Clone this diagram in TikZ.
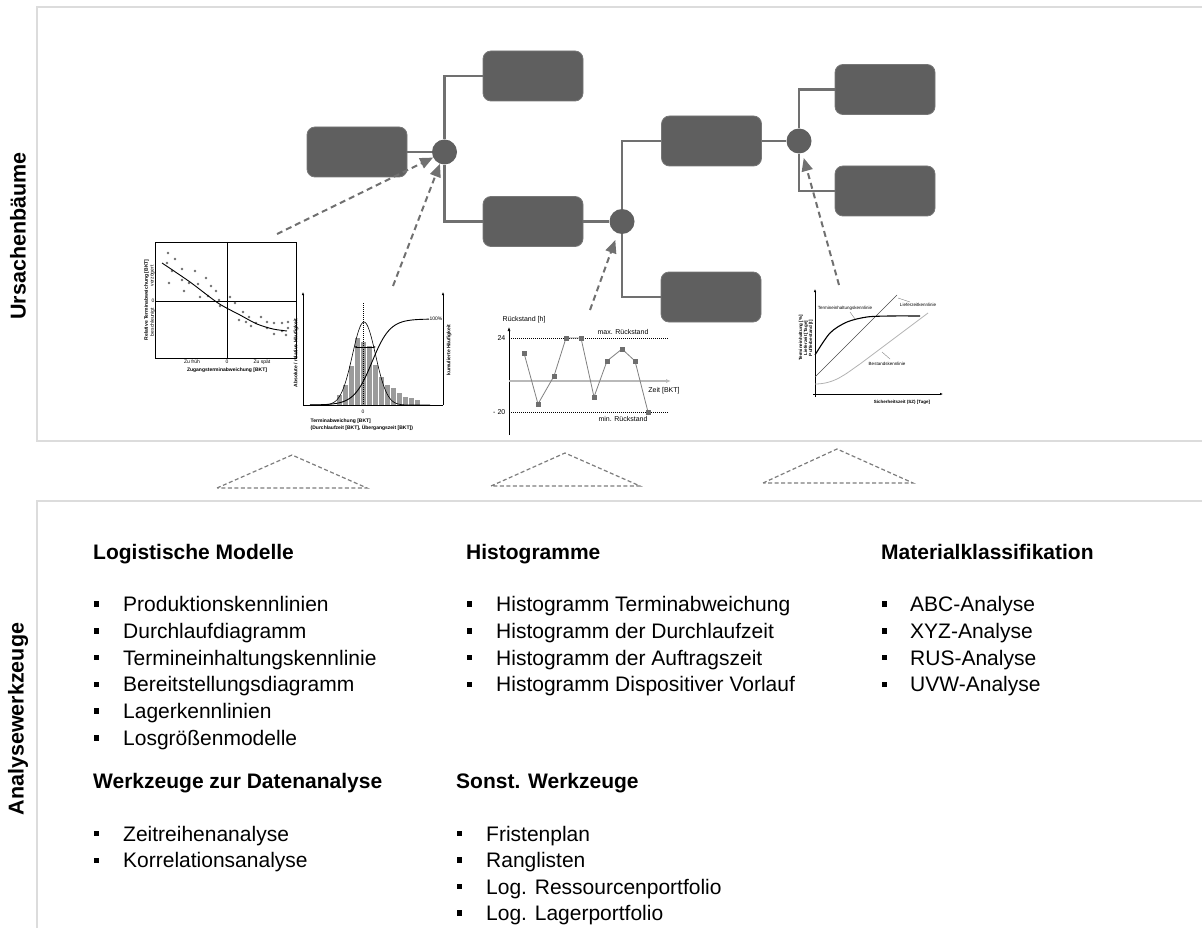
\documentclass[tikz,border=0pt]{standalone}
\usepackage{fontspec}
\setmainfont{Liberation Sans}
\usepackage{xcolor}
\usepackage{tikz}
\usetikzlibrary{arrows.meta,positioning,calc}

\definecolor{boxgray}{RGB}{95,95,95}
\definecolor{linegray}{RGB}{112,112,112}
\definecolor{panelgray}{RGB}{220,220,220}
\definecolor{bargray}{RGB}{155,155,155}
\definecolor{dotgray}{RGB}{110,110,110}
\definecolor{trigray}{RGB}{125,125,125}

\tikzset{
    causebox/.style={draw=boxgray!85!white, fill=boxgray, rounded corners=8pt, line width=0.8pt,
        minimum width=100pt, minimum height=50pt, inner sep=0pt},
    andnode/.style={circle, fill=boxgray, minimum size=25pt, inner sep=0pt},
    treeline/.style={draw=linegray, line width=2.2pt},
    dasharrow/.style={draw=linegray, line width=2pt, dash pattern=on 6pt off 4pt,
        -{Triangle[length=13pt,width=11pt]}},
    roof/.style={draw=trigray, line width=1.2pt, dash pattern=on 4pt off 2.5pt},
    panelline/.style={draw=panelgray, line width=1.8pt},
    sidelabel/.style={rotate=90, inner sep=0pt, font=\fontsize{21.5}{24}\selectfont\bfseries},
    headtxt/.style={anchor=base west, inner sep=0pt, font=\fontsize{21}{24}\selectfont\bfseries},
    itemtxt/.style={anchor=base west, inner sep=0pt, font=\fontsize{21}{24}\selectfont},
    bulletsq/.style={fill=black, minimum size=5.5pt, inner sep=0pt},
    axisline/.style={line width=0.6pt},
    tinytxt/.style={inner sep=0.5pt, font=\fontsize{5}{5.5}\selectfont},
    tinybold/.style={inner sep=0.5pt, font=\fontsize{5}{5.5}\selectfont\bfseries},
    smalltxt/.style={inner sep=0.5pt, font=\fontsize{7}{8}\selectfont},
}

\begin{document}
\begin{tikzpicture}[x=1pt, y=-1pt]
    \useasboundingbox (0,0) rectangle (1202,928);

    % Rahmen
    \draw[panelline] (1202,7) -- (37,7) -- (37,441) -- (1202,441);
    \draw[panelline] (1202,501) -- (37,501) -- (37,928);
    \node[sidelabel] (lab1) at (18,236) {Ursachenbäume};
    \node[sidelabel] (lab2) at (18,719) {Analysewerkzeuge};

    % Ursachenbaum
    \node[causebox] (ta) at (357,152) {};
    \node[andnode] (u1) at (444.5,152) {};
    \node[causebox] (tb) at (533,76) {};
    \node[causebox] (tc) at (533,221.5) {};
    \node[andnode] (u2) at (622,221.5) {};
    \node[causebox] (td) at (711.5,141) {};
    \node[causebox] (te) at (711,297) {};
    \node[andnode] (u3) at (799,141) {};
    \node[causebox] (tf) at (885,89.5) {};
    \node[causebox] (tg) at (885,191) {};

    \draw[treeline] (ta.east) -- (u1.west);
    \draw[treeline] (u1.north) |- (tb.west);
    \draw[treeline] (u1.south) |- (tc.west);
    \draw[treeline] (tc.east) -- (u2.west);
    \draw[treeline] (u2.north) |- (td.west);
    \draw[treeline] (u2.south) |- (te.west);
    \draw[treeline] (td.east) -- (u3.west);
    \draw[treeline] (u3.north) |- (tf.west);
    \draw[treeline] (u3.south) |- (tg.west);

    % Zuordnung der Diagramme
    \coordinate (q1) at (277,234);
    \coordinate (q2) at (393,286);
    \coordinate (q3) at (590,310);
    \coordinate (q4) at (839,285);
    \draw[dasharrow] (q1) -- (u1);
    \draw[dasharrow] (q2) -- (u1);
    \draw[dasharrow, shorten >=7pt] (q3) -- (u2);
    \draw[dasharrow, shorten >=5pt] (q4) -- (u3);

    % Diagramm 1: Zugangsterminabweichung
    \draw[axisline] (155,242) rectangle (296,358);
    \draw[axisline] (227,242) -- (227,358);
    \draw[axisline] (155,301) -- (296,301);
    \foreach \px/\py in {168/253, 175/259, 167/263, 172/271, 182/269, 169/283, 195/271, 182/280,
        189/283, 206/278, 184/291, 198/284, 211/286, 216/291, 200/297, 208/296, 219/300, 220/306,
        230/297, 235/303, 243/312, 239/320, 249/317, 246/322, 261/317, 256/323, 251/326, 267/322,
        274/323, 282/323, 288/322, 267/328, 274/334, 282/331, 286/335, 288/328}
        \fill[dotgray] (\px,\py) circle (1.3);
    \draw[line width=0.9pt] plot[smooth] coordinates {(162,263) (190,282) (218,303) (240,315) (257,324) (273,329) (287,331)};
    \node[tinytxt, anchor=east] (d1null) at (155,301) {0};
    \node[tinytxt, rotate=90] (d1spaet) at (152.5,276) {verzögert};
    \node[tinytxt, rotate=90] (d1frueh) at (152.5,322) {beschleunigt};
    \node[tinybold, rotate=90] (d1y) at (146.5,300) {Relative Terminabweichung [BKT]};
    \node[tinytxt] (d1a) at (192,362) {Zu früh};
    \node[tinytxt] (d1b) at (227,362) {0};
    \node[tinytxt] (d1c) at (262,362) {Zu spät};
    \node[tinybold] (d1x) at (227,370) {Zugangsterminabweichung [BKT]};

    % Diagramm 2: Histogramm
    \foreach \bx/\by in {337/395, 343/385, 349/366, 355/338, 361/342, 367/346, 373/365, 379/377,
        385/385, 391/388, 397/393, 403/397, 409/398, 415/400}
        \fill[bargray] (\bx,405) rectangle (\bx+5,\by);
    \draw[axisline, -{Latex[length=3pt,width=2.5pt]}] (303,405) -- (303,292);
    \draw[axisline] (303,405) -- (443,405);
    \draw[axisline, -{Latex[length=3pt,width=2.5pt]}] (443,405) -- (443,292);
    \draw[line width=1pt, dash pattern=on 1pt off 1pt] (363,303) -- (363,405);
    \draw[line width=0.6pt] plot[domain=310:430, samples=90, smooth] (\x, {405-83*exp(-0.5*((\x-364)/11.5)^2)});
    \draw[line width=0.9pt] plot[domain=310:429, samples=90, smooth] (\x, {405-86/(1+exp(-(\x-372)/9))});
    \draw[line width=0.5pt, {Latex[length=2.5pt,width=2pt]}-{Latex[length=2.5pt,width=2pt]}] (354,347) -- (376,347);
    \node[tinytxt] (d2p) at (436,319) {100\%};
    \node[tinytxt] (d2n) at (363,412) {0};
    \node[tinybold, rotate=90] (d2y) at (296,353) {Absolute / relative Häufigkeit};
    \node[tinybold, rotate=90] (d2k) at (449,350) {kumulierte Häufigkeit};
    \node[tinybold, anchor=west] (d2x) at (310,421) {Terminabweichung [BKT]};
    \node[tinybold, anchor=west] (d2z) at (310,428) {(Durchlaufzeit [BKT], Übergangszeit [BKT])};

    % Diagramm 3: Rückstand
    \draw[axisline, -{Latex[length=4pt,width=3pt]}] (509,435) -- (509,327);
    \draw[draw=gray!55, line width=1.5pt, -{Latex[length=5pt,width=4pt,fill=black!70]}] (509,381) -- (671,381);
    \draw[line width=1pt, dash pattern=on 1pt off 1pt] (509,338) -- (669,338);
    \draw[line width=1pt, dash pattern=on 1pt off 1pt] (509,412) -- (669,412);
    \draw[draw=gray, line width=0.8pt] (524,353) -- (538,404) -- (554,376) -- (566,338) -- (581,338)
        -- (594,397) -- (607,361) -- (622,349) -- (635,361) -- (648,412);
    \foreach \px/\py in {524/353, 538/404, 554/376, 566/338, 581/338, 594/397, 607/361, 622/349, 635/361, 648/412}
        \fill[dotgray] (\px-2.5,\py-2.5) rectangle +(5,5);
    \node[smalltxt, anchor=west] (d3y) at (502,320) {Rückstand [h]};
    \node[smalltxt, anchor=east] (d3max) at (506,338) {24};
    \node[smalltxt, anchor=east] (d3min) at (506,412) {- 20};
    \node[smalltxt] (d3a) at (623,332) {max. Rückstand};
    \node[smalltxt] (d3b) at (623,419) {min. Rückstand};
    \node[smalltxt] (d3x) at (664,391) {Zeit [BKT]};

    % Diagramm 4: Kennlinien
    \draw[axisline, -{Latex[length=3pt,width=2.5pt]}] (815,397) -- (815,289);
    \draw[axisline, -{Latex[length=3pt,width=2.5pt]}] (813,394) -- (943,394);
    \draw[draw=gray!60, line width=0.8pt] (815,384) .. controls (835,384) and (846,373.5) .. (860,364) -- (928,313);
    \draw[draw=black!70, line width=0.4pt] (815,377) -- (897,295);
    \draw[line width=1.1pt] plot[smooth] coordinates {(815,355) (830,333) (847,322) (867,317) (890,316) (920,316)};
    \draw[draw=gray, line width=0.4pt] (850,312) -- (855,319);
    \draw[draw=gray, line width=0.4pt] (898,298) -- (910,302);
    \draw[draw=gray, line width=0.4pt] (882,352) -- (890,359);
    \node[tinytxt, font=\fontsize{4.5}{5}\selectfont] (d4t) at (845,308) {Termineinhaltungskennlinie};
    \node[tinytxt, font=\fontsize{4.5}{5}\selectfont] (d4l) at (918,305) {Lieferzeitkennlinie};
    \node[tinytxt, font=\fontsize{4.5}{5}\selectfont] (d4b) at (887,364) {Bestandskennlinie};
    \node[tinybold, rotate=90, align=center, font=\fontsize{4.5}{5}\selectfont\bfseries] (d4y) at (806,338)
        {Termineinhaltung [\%]\\Lieferzeit [Tage]\\Pufferbestand [t]};
    \node[tinybold, font=\fontsize{4.5}{5}\selectfont\bfseries] (d4x) at (902,402) {Sicherheitszeit (SZ) [Tage]};

    % Dreiecke
    \draw[roof] (217,488) -- (292,455) -- (367,488) -- cycle;
    \draw[roof] (491,486) -- (565,453) -- (640,486) -- cycle;
    \draw[roof] (763,483) -- (837,449) -- (913,483) -- cycle;

    % Analysewerkzeuge
    \node[headtxt] (h1) at (93,559.5) {Logistische Modelle};
    \foreach \txt [count=\i] in {Produktionskennlinien, Durchlaufdiagramm, Termineinhaltungskennlinie,
        Bereitstellungsdiagramm, Lagerkennlinien, Losgrößenmodelle} {
        \node[itemtxt] (lm\i) at (123,{611.5+26.8*(\i-1)}) {\txt};
        \node[bulletsq] (lmb\i) at (96.5,{604+26.8*(\i-1)}) {};
    }
    \node[headtxt] (h2) at (93,788.5) {Werkzeuge zur Datenanalyse};
    \foreach \txt [count=\i] in {Zeitreihenanalyse, Korrelationsanalyse} {
        \node[itemtxt] (wd\i) at (123,{841+26.8*(\i-1)}) {\txt};
        \node[bulletsq] (wdb\i) at (96.5,{833.5+26.8*(\i-1)}) {};
    }
    \node[headtxt] (h3) at (466,559.5) {Histogramme};
    \foreach \txt [count=\i] in {Histogramm Terminabweichung, Histogramm der Durchlaufzeit,
        Histogramm der Auftragszeit, Histogramm Dispositiver Vorlauf} {
        \node[itemtxt] (hg\i) at (496,{611.5+26.8*(\i-1)}) {\txt};
        \node[bulletsq] (hgb\i) at (469.5,{604+26.8*(\i-1)}) {};
    }
    \node[headtxt] (h4) at (456,788.5) {Sonst. Werkzeuge};
    \foreach \txt [count=\i] in {Fristenplan, Ranglisten, Log. Ressourcenportfolio, Log. Lagerportfolio} {
        \node[itemtxt] (sw\i) at (486,{841+26.5*(\i-1)}) {\txt};
        \node[bulletsq] (swb\i) at (459.5,{833.5+26.5*(\i-1)}) {};
    }
    \node[headtxt] (h5) at (881,559.5) {Materialklassifikation};
    \foreach \txt [count=\i] in {ABC-Analyse, XYZ-Analyse, RUS-Analyse, UVW-Analyse} {
        \node[itemtxt] (mk\i) at (910,{611.5+26.8*(\i-1)}) {\txt};
        \node[bulletsq] (mkb\i) at (884.5,{604+26.8*(\i-1)}) {};
    }
\end{tikzpicture}
\end{document}
